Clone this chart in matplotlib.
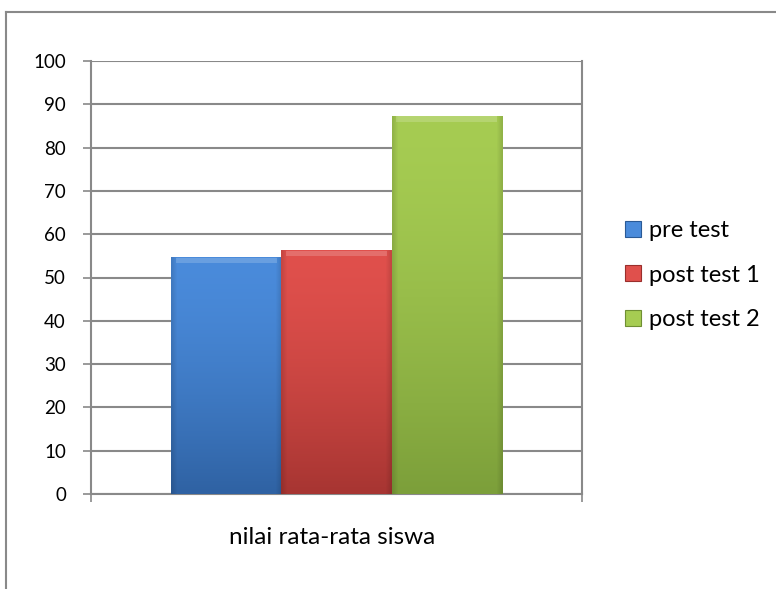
import matplotlib
matplotlib.use("Agg")
import matplotlib.pyplot as plt
import numpy as np
from matplotlib.colors import to_rgb
from matplotlib.patches import Rectangle
from matplotlib.lines import Line2D

plt.rcParams['font.family'] = ['Lato', 'DejaVu Sans']

category = "nilai rata-rata siswa"
series = ["pre test", "post test 1", "post test 2"]
values = [54.7, 56.3, 87.4]
yticks = [0, 10, 20, 30, 40, 50, 60, 70, 80, 90, 100]

top_cols = ["#4A8BDB", "#E0504C", "#A6CC52"]
bot_cols = ["#2F62A3", "#A73532", "#7C9F3A"]
edge_cols = ["#2A5A96", "#9A2F2C", "#6F8F33"]

W, H = 776, 589
fig = plt.figure(figsize=(W / 100, H / 100), dpi=100)
ax = fig.add_axes([91 / W, 1 - 494 / H, (582 - 91) / W, (494 - 61) / H])

grid_c = "#898989"
bw = 0.2245
offsets = [-bw, 0, bw]
bars = []
for i, (s, v) in enumerate(zip(series, values)):
    b = ax.bar(offsets[i], v, width=bw, color=top_cols[i], edgecolor=edge_cols[i],
               linewidth=0.6, zorder=3, label=s)[0]
    bars.append(b)
    t = np.linspace(0, 1, 100)[:, None]
    xs = np.linspace(0, 1, 60)[None, :]
    c1 = np.array(to_rgb(top_cols[i]))
    c2 = np.array(to_rgb(bot_cols[i]))
    img = c1[None, None, :] * (1 - t[..., None] ** 1.5) + c2[None, None, :] * (t[..., None] ** 1.5)
    edge = np.minimum(xs, 1 - xs)
    shade = 1 - 0.12 * np.clip(1 - edge / 0.05, 0, 1)
    img = img * shade[..., None]
    x0 = b.get_x(); x1 = x0 + b.get_width()
    im = ax.imshow(np.clip(img, 0, 1), extent=(x0, x1, 0, v), origin='upper',
                   aspect='auto', zorder=3.5, interpolation='bilinear')
    im.set_clip_path(b)
    ax.fill_between([x0 + bw * 0.04, x1 - bw * 0.04], v - 1.4, v - 0.2,
                    color='white', alpha=0.18, zorder=4, linewidth=0)

ax.set_xlim(-0.5, 0.5)
ax.set_ylim(0, 100)
ax.set_yticks(yticks)
ax.yaxis.grid(True, color=grid_c, linewidth=1.5, zorder=0)
ax.set_axisbelow(True)
ax.set_xticks([-0.5, 0.5])
ax.set_xticklabels(["", ""])
ax.tick_params(axis='x', length=6, width=1.2, color=grid_c, direction='out')
ax.tick_params(axis='y', length=6, width=1.2, color=grid_c, direction='out',
               labelsize=13.5, pad=12)
for sp in ax.spines.values():
    sp.set_color(grid_c)
    sp.set_linewidth(1.5)
ax.spines['top'].set_visible(False)

ax.text(-0.008, -0.1, category, transform=ax.get_xaxis_transform(),
        ha='center', va='center', fontsize=17.5)

handles = [Rectangle((0, 0), 1, 1, facecolor=top_cols[i], edgecolor=edge_cols[i], linewidth=0.8)
           for i in range(3)]
leg = fig.legend(handles, series, loc='center left', bbox_to_anchor=(625 / W, 1 - 275 / H),
                 frameon=False, fontsize=17, handlelength=0.68, handleheight=0.68,
                 handletextpad=0.35, labelspacing=1.0, borderpad=0, borderaxespad=0)

fig.add_artist(Line2D([6 / W, 1], [1 - 12 / H, 1 - 12 / H], color=grid_c, linewidth=1.5,
                      transform=fig.transFigure))
fig.add_artist(Line2D([6 / W, 6 / W], [0, 1 - 12 / H], color=grid_c, linewidth=1.5,
                      transform=fig.transFigure))

fig.savefig("out.png", dpi=100)
